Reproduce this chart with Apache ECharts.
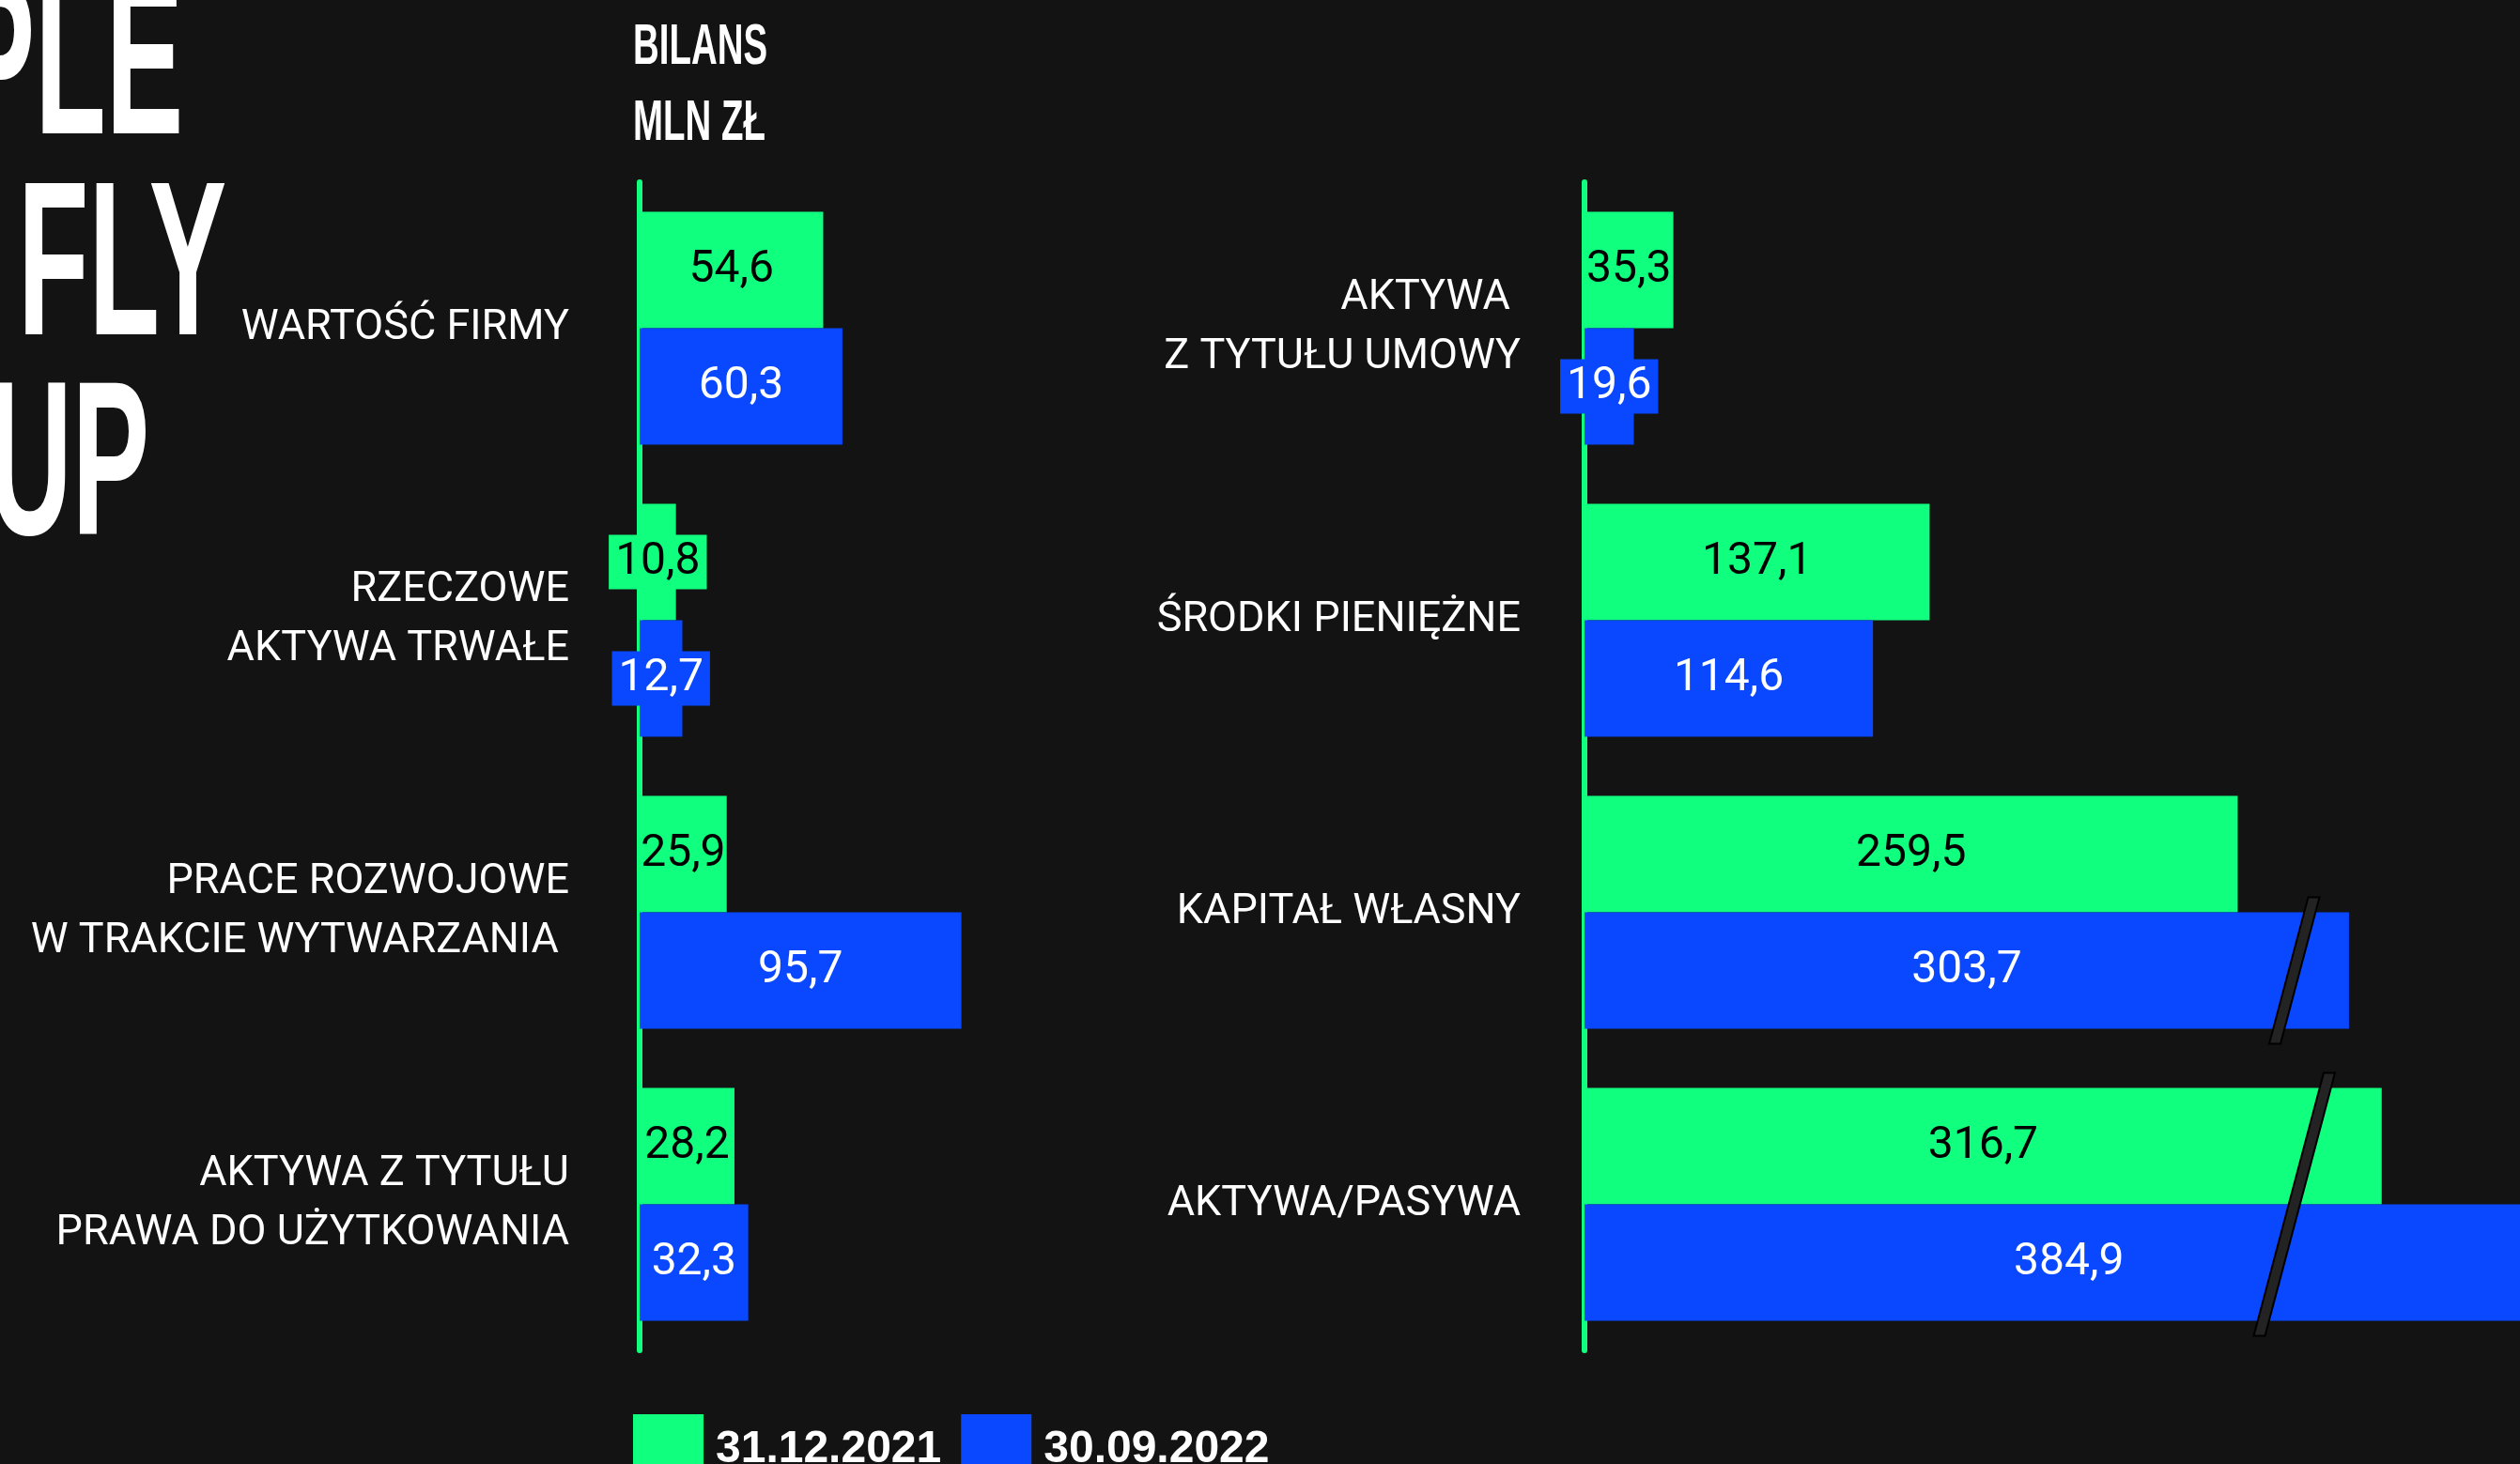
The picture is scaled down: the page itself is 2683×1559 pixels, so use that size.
<!DOCTYPE html>
<html>
<head>
<meta charset="utf-8">
<script src="https://cdn.jsdelivr.net/npm/echarts@6/dist/echarts.min.js"></script>
<style>
  html, body { margin: 0; padding: 0; background: #131313; }
  #chart { width: 2683px; height: 1559px; }
</style>
</head>
<body>
<div id="chart"></div>
<script>
// dane
const seriesNames = ['31.12.2021', '30.09.2022'];

const leftCategories = [
  'WARTOŚĆ FIRMY',
  'RZECZOWE\nAKTYWA TRWAŁE',
  'PRACE ROZWOJOWE\nW TRAKCIE WYTWARZANIA ',
  'AKTYWA Z TYTUŁU\nPRAWA DO UŻYTKOWANIA'
];
const left2021 = [54.6, 10.8, 25.9, 28.2];
const left2022 = [60.3, 12.7, 95.7, 32.3];

const rightCategories = [
  'AKTYWA \nZ TYTUŁU UMOWY',
  'ŚRODKI PIENIĘŻNE',
  'KAPITAŁ WŁASNY',
  'AKTYWA/PASYWA'
];
const right2021 = [35.3, 137.1, 259.5, 316.7];
const right2022 = [19.6, 114.6, 303.7, 384.9];

// znaczniki przerwania osi (kategoria, wartość, które słupki przecina)
const breakCategories = ['KAPITAŁ WŁASNY', 'AKTYWA/PASYWA'];
const breakValues = [282, 282];
const breakSpans = ['blue', 'both'];

const GREEN = '#10ff7e';
const BLUE = '#0948ff';
const BG = '#131313';
const FONT = 'Roboto, "Liberation Sans", sans-serif';
const BOLD = '"Liberation Sans", Arial, sans-serif';
const BAR_W = 124;

const chart = echarts.init(document.getElementById('chart'));

const fmt = (v) => v.toFixed(1).replace('.', ',');

// small bars get a label box in the bar colour, so the number stays readable
function barData(values, color) {
  return values.map(v => v < 22 ? {
    value: v,
    label: { backgroundColor: color, padding: [3, 7] }
  } : v);
}

function barSeries(name, values, color, textColor, idx) {
  return {
    name,
    type: 'bar',
    xAxisIndex: idx,
    yAxisIndex: idx,
    data: barData(values, color),
    barWidth: BAR_W,
    barGap: '0%',
    itemStyle: { color },
    label: {
      show: true,
      position: 'inside',
      formatter: p => fmt(p.value),
      color: textColor,
      fontFamily: FONT,
      fontSize: 48,
      lineHeight: 52
    },
    silent: true,
    z: 3
  };
}

const catAxisBase = {
  type: 'category',
  inverse: true,
  offset: 3,
  axisLine: { show: true, lineStyle: { color: GREEN, width: 6 } },
  axisTick: { show: false },
  splitLine: { show: false },
  axisLabel: {
    color: '#ffffff',
    fontFamily: FONT,
    fontSize: 45,
    lineHeight: 63,
    padding: [10, 0, 0, 0],
    align: 'right'
  }
};

function bigText(text, x, y, scale, size) {
  return {
    type: 'text', x, y, scaleX: scale, silent: true,
    style: {
      text, fill: '#ffffff', font: 'bold ' + size + 'px ' + BOLD,
      align: x < 600 ? 'right' : 'left', verticalAlign: 'middle'
    }
  };
}

const option = {
  backgroundColor: BG,
  animation: false,
  grid: [
    { left: 681, top: 194, width: 358, height: 1244, outerBoundsMode: 'none', containLabel: false },
    { left: 1687, top: 194, width: 1072, height: 1244, outerBoundsMode: 'none', containLabel: false }
  ],
  xAxis: [
    { type: 'value', gridIndex: 0, min: 0, max: 100, show: false },
    { type: 'value', gridIndex: 1, min: 0, max: 400, show: false }
  ],
  yAxis: [
    Object.assign({}, catAxisBase, {
      gridIndex: 0,
      data: leftCategories,
      axisLabel: Object.assign({}, catAxisBase.axisLabel, { margin: 72 })
    }),
    Object.assign({}, catAxisBase, {
      gridIndex: 1,
      data: rightCategories,
      axisLabel: Object.assign({}, catAxisBase.axisLabel, { margin: 65 })
    })
  ],
  legend: {
    data: seriesNames,
    left: 674,
    top: 1506,
    padding: 0,
    itemWidth: 75,
    itemHeight: 75,
    itemGap: 21,
    icon: 'rect',
    selectedMode: false,
    textStyle: {
      color: '#ffffff',
      fontFamily: BOLD,
      fontWeight: 'bold',
      fontSize: 48,
      padding: [0, 0, 0, 8]
    }
  },
  graphic: [
    // tytuł
    bigText('BILANS', 674, 51, 0.63, 61),
    bigText('MLN ZŁ', 674, 132, 0.63, 61),
    // duży napis z lewej (przycięty krawędzią)
    bigText('PEOPLE', 195, 78, 0.53, 233),
    bigText('CAN FLY', 241, 292, 0.53, 233),
    bigText('GROUP', 159, 505, 0.53, 233)
  ],
  series: [
    barSeries(seriesNames[0], left2021, GREEN, '#000000', 0),
    barSeries(seriesNames[1], left2022, BLUE, '#ffffff', 0),
    barSeries(seriesNames[0], right2021, GREEN, '#000000', 1),
    barSeries(seriesNames[1], right2022, BLUE, '#ffffff', 1),
    {
      type: 'custom',
      xAxisIndex: 1,
      yAxisIndex: 1,
      silent: true,
      z: 10,
      data: breakValues.map((v, i) => [v, breakCategories[i]]),
      renderItem: (params, api) => {
        const c = api.coord([api.value(0), api.value(1)]);
        const span = breakSpans[params.dataIndex];
        const cy = span === 'blue' ? c[1] + BAR_W / 2 : c[1];
        const half = span === 'blue' ? BAR_W / 2 + 16 : BAR_W + 16;
        const slope = 0.266;
        const w = 12;
        const cx = c[0];
        return {
          type: 'polygon',
          shape: {
            points: [
              [cx + half * slope - w / 2, cy - half],
              [cx + half * slope + w / 2, cy - half],
              [cx - half * slope + w / 2, cy + half],
              [cx - half * slope - w / 2, cy + half]
            ]
          },
          style: { fill: '#232323', stroke: '#000000', lineWidth: 2 }
        };
      }
    }
  ]
};

chart.setOption(option);
</script>
</body>
</html>
